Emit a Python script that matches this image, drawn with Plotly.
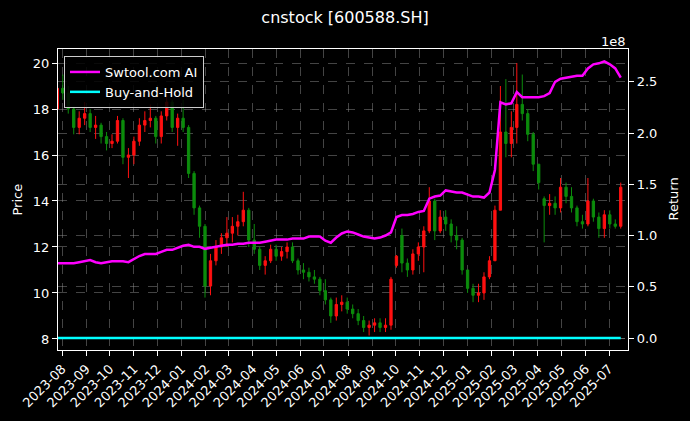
import pandas as pd
import plotly.graph_objects as go

# ---- data (weekly candles) ----
start_date = "2023-07-26"
open_ = [18.0, 18.9, 18.7, 18.0, 17.2, 17.6, 17.8, 17.2, 17.3, 16.8,
         16.5, 16.6, 17.5, 15.9, 16.0, 16.6, 17.3, 17.5, 17.6, 16.8,
         17.7, 18.3, 17.2, 17.6, 17.2, 15.2, 13.7, 12.9, 10.3, 11.4,
         12.0, 12.4, 12.6, 12.9, 13.1, 13.6, 12.3, 11.9, 11.2, 11.4,
         11.9, 11.6, 11.8, 12.0, 11.4, 11.0, 10.9, 10.7, 10.6, 10.1,
         9.7, 9.0, 9.5, 9.6, 9.3, 9.1, 8.8, 8.5, 8.6, 8.7,
         8.5, 8.6, 11.2, 12.5, 11.3, 11.0, 11.7, 12.0, 12.7, 14.0,
         12.7, 13.3, 13.0, 12.5, 12.3, 11.0, 10.2, 9.9, 10.0, 10.7,
         11.4, 13.6, 17.0, 16.5, 17.2, 18.2, 17.8, 16.9, 15.6, 14.1,
         13.8, 13.9, 13.7, 14.6, 14.2, 13.7, 13.1, 13.0, 14.0, 13.3,
         12.8, 13.4, 13.0, 12.9]
high = [19.0, 19.5, 19.0, 18.1, 17.9, 18.3, 18.0, 17.7, 17.4, 17.0,
        16.9, 17.7, 17.6, 16.3, 16.8, 17.6, 17.9, 18.2, 17.7, 17.9,
        18.6, 18.4, 17.8, 18.4, 17.3, 15.3, 13.8, 13.0, 11.7, 12.3,
        12.6, 13.3, 13.3, 13.4, 14.4, 13.7, 13.0, 12.0, 11.6, 12.1,
        12.1, 12.0, 12.2, 12.2, 11.5, 11.3, 11.1, 11.0, 10.7, 10.6,
        9.8, 9.8, 9.9, 9.8, 9.5, 9.3, 9.0, 8.8, 8.9, 8.9,
        8.9, 10.7, 11.65, 12.8, 11.5, 11.9, 12.2, 12.9, 14.6, 14.1,
        13.6, 13.6, 13.2, 12.9, 12.4, 11.0, 10.4, 10.4, 10.9, 11.6,
        13.8, 19.0, 19.3, 17.9, 20.0, 19.5, 18.0, 17.0, 15.6, 14.2,
        14.3, 14.2, 15.0, 14.8, 14.6, 13.8, 13.4, 15.0, 14.1, 13.5,
        13.6, 13.6, 13.2, 14.8]
low = [17.9, 18.4, 17.8, 16.9, 16.9, 17.3, 17.0, 16.7, 16.5, 16.2,
       16.3, 16.5, 15.6, 15.0, 15.6, 16.4, 17.0, 17.2, 16.5, 16.5,
       17.5, 17.0, 16.4, 17.0, 15.0, 13.4, 12.4, 9.8, 9.9, 11.2,
       11.7, 12.0, 12.2, 12.5, 12.9, 12.0, 11.7, 11.0, 10.8, 11.3,
       11.4, 11.4, 11.5, 11.3, 10.8, 10.6, 10.5, 10.4, 9.9, 9.5,
       8.7, 8.8, 9.2, 9.1, 8.9, 8.6, 8.3, 8.15, 8.3, 8.3,
       8.3, 8.4, 11.1, 10.9, 10.7, 10.8, 11.4, 10.9, 12.6, 12.3,
       12.6, 12.7, 12.2, 11.9, 10.8, 10.0, 9.6, 9.6, 9.7, 10.6,
       11.4, 13.6, 15.9, 15.9, 16.5, 17.5, 16.6, 15.3, 14.5, 12.2,
       13.4, 13.4, 13.5, 13.9, 13.5, 12.9, 12.8, 12.9, 13.1, 12.4,
       12.4, 12.8, 12.8, 12.8]
close = [18.9, 18.7, 18.0, 17.2, 17.6, 17.8, 17.2, 17.3, 16.8, 16.5,
         16.6, 17.5, 15.9, 16.0, 16.6, 17.3, 17.5, 17.6, 16.8, 17.7,
         18.3, 17.2, 17.6, 17.2, 15.2, 13.7, 12.9, 10.3, 11.4, 12.0,
         12.4, 12.6, 12.9, 13.1, 13.6, 12.3, 11.9, 11.2, 11.4, 11.9,
         11.6, 11.8, 12.0, 11.4, 11.0, 10.9, 10.7, 10.6, 10.1, 9.7,
         9.0, 9.5, 9.6, 9.3, 9.1, 8.8, 8.5, 8.6, 8.7, 8.5,
         8.6, 10.6, 11.6, 11.3, 11.0, 11.7, 12.0, 12.7, 14.0, 12.7,
         13.3, 13.0, 12.5, 12.3, 11.0, 10.2, 9.9, 10.0, 10.7, 11.4,
         13.6, 17.0, 16.5, 17.2, 18.2, 17.8, 16.9, 15.6, 14.8, 13.8,
         13.9, 13.7, 14.6, 14.2, 13.7, 13.1, 13.0, 14.0, 13.3, 12.8,
         13.4, 13.0, 12.9, 14.6]
# strategy return, in units of 1e8
ai_return_1e8 = [0.73, 0.73, 0.73, 0.73, 0.74, 0.75, 0.76, 0.74, 0.73, 0.74,
                 0.75, 0.75, 0.75, 0.74, 0.77, 0.80, 0.82, 0.82, 0.82, 0.84,
                 0.86, 0.86, 0.88, 0.90, 0.91, 0.89, 0.89, 0.87, 0.88, 0.89,
                 0.90, 0.91, 0.91, 0.92, 0.92, 0.93, 0.93, 0.93, 0.94, 0.95,
                 0.96, 0.96, 0.96, 0.97, 0.97, 0.97, 0.99, 0.99, 0.99, 0.95,
                 0.93, 0.98, 1.02, 1.04, 1.03, 1.01, 0.99, 0.98, 0.97, 0.98,
                 1.00, 1.03, 1.18, 1.20, 1.20, 1.21, 1.23, 1.24, 1.36, 1.38,
                 1.39, 1.44, 1.43, 1.42, 1.42, 1.40, 1.38, 1.38, 1.37, 1.42,
                 1.64, 2.30, 2.28, 2.29, 2.40, 2.35, 2.35, 2.35, 2.35, 2.36,
                 2.39, 2.50, 2.53, 2.54, 2.55, 2.56, 2.56, 2.63, 2.67, 2.68,
                 2.70, 2.67, 2.63, 2.54]

dates = pd.date_range(start_date, periods=len(close), freq="7D")
# buy-and-hold return (plain ratio) expressed in the same 1e8 units
buy_hold_1e8 = [(c / close[0] - 1) / 1e8 for c in close]

FONT = "DejaVu Sans"
fig = go.Figure()
fig.add_trace(go.Candlestick(
    x=dates, open=open_, high=high, low=low, close=close,
    increasing=dict(line=dict(color="#ff1010", width=1), fillcolor="#ff1010"),
    decreasing=dict(line=dict(color="#0c8c0c", width=1), fillcolor="#0c8c0c"),
    whiskerwidth=0, showlegend=False, yaxis="y"))
fig.add_trace(go.Scatter(x=dates, y=ai_return_1e8, mode="lines", name="Swtool.com AI",
                         line=dict(color="#ff00ff", width=2.5), yaxis="y2"))
fig.add_trace(go.Scatter(x=dates, y=buy_hold_1e8, mode="lines", name="Buy-and-Hold",
                         line=dict(color="#00ffff", width=2.5), yaxis="y2"))

grid = "rgba(150,150,150,0.45)"
fig.update_layout(
    width=690, height=421,
    paper_bgcolor="black", plot_bgcolor="black",
    font=dict(family=FONT, color="white", size=13),
    margin=dict(l=58, r=62, t=49, b=71),
    boxgap=0.4,
    title=dict(text="cnstock [600588.SH]", x=0.5, xanchor="center", y=1 - 17 / 421,
               yanchor="middle", font=dict(size=16, family=FONT, color="white")),
    xaxis=dict(type="date", range=["2023-07-26 21:00", "2025-07-25 07:00"],
               rangeslider=dict(visible=False), tick0="2023-08-01", dtick="M1",
               tickformat="%Y-%m", tickangle=-45, ticks="outside", ticklen=5,
               tickcolor="white", showline=True, linecolor="white", linewidth=1.2,
               mirror=True, showgrid=True, gridcolor=grid, griddash="dash",
               gridwidth=0.7, automargin=False, zeroline=False),
    yaxis=dict(range=[7.52, 20.61], dtick=2, tick0=8, ticks="outside", ticklen=5,
               tickcolor="white", showline=True, linecolor="white", linewidth=1.2,
               showgrid=True, gridcolor=grid, griddash="dash", gridwidth=0.7,
               automargin=False, zeroline=False),
    yaxis2=dict(range=[-0.117, 2.82], overlaying="y", side="right", dtick=0.5, tick0=0,
                tickformat=".1f", ticks="outside", ticklen=5, tickcolor="white",
                showline=True, linecolor="white", linewidth=1.2,
                showgrid=True, gridcolor=grid, griddash="dash", gridwidth=0.7,
                automargin=False, zeroline=False),
    legend=dict(x=(64 - 58) / 570, y=(350 - 56) / 301, xanchor="left", yanchor="top",
                bgcolor="rgba(0,0,0,0.85)", bordercolor="#cccccc", borderwidth=1,
                tracegroupgap=0,
                font=dict(size=13, color="white", family=FONT)),
    annotations=[
        dict(text="Price", xref="paper", yref="paper", x=(17 - 58) / 570, y=0.5,
             xanchor="center", yanchor="middle", textangle=-90, showarrow=False,
             font=dict(size=13, color="white", family=FONT)),
        dict(text="Return", xref="paper", yref="paper", x=(673 - 58) / 570, y=0.5,
             xanchor="center", yanchor="middle", textangle=-90, showarrow=False,
             font=dict(size=13, color="white", family=FONT)),
        dict(text="1e8", xref="paper", yref="paper", x=1.0, y=(350 - 41) / 301,
             xanchor="right", yanchor="middle", showarrow=False,
             font=dict(size=13, color="white", family=FONT)),
    ],
)
fig.write_html(
    "out.html",
    config={"displayModeBar": False},
    post_script="document.body.style.margin='0';document.body.style.background='black';",
)
